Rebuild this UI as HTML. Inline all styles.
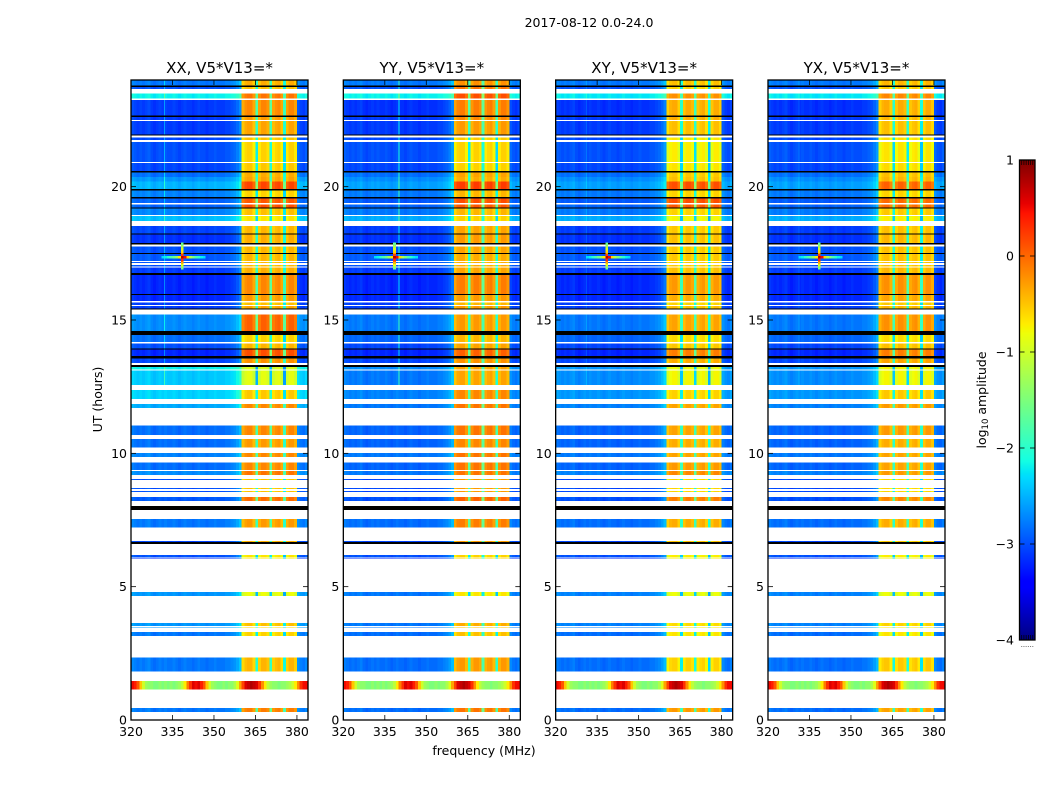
<!DOCTYPE html>
<html lang="en">
<head>
<meta charset="utf-8">
<title>2017-08-12 0.0-24.0</title>
<style>
html,body{margin:0;padding:0;background:#fff;}
svg{display:block;}
text{font-family:"DejaVu Sans","Liberation Sans",sans-serif;fill:#000;}
</style>
</head>
<body>
<svg id="chart" xmlns="http://www.w3.org/2000/svg" width="1050" height="800" viewBox="0 0 1050 800">
  <text x="589" y="27" font-size="12.5" text-anchor="middle">2017-08-12 0.0-24.0</text>
  <text x="484" y="755" font-size="12.5" text-anchor="middle">frequency (MHz)</text>
  <text transform="translate(102 399.5) rotate(-90)" font-size="12.5" text-anchor="middle">UT (hours)</text>
  <text transform="translate(986 400) rotate(-90)" font-size="12.5" text-anchor="middle">log<tspan font-size="8.5" dy="2">10</tspan><tspan dy="-2"> amplitude</tspan></text>
  <g id="panels"></g>
  <g id="colorbar"></g>
</svg>
<script>
// Tick labels
const xTickLabels = [320, 335, 350, 365, 380];
const yTickLabels = [0, 5, 10, 15, 20];
const colorbarTicks = [-4, -3, -2, -1, 0, 1];

// Time rows, top to bottom: each row spans from its UT to the next UT
const rowTopUT = [24.00,23.79,23.74,23.67,23.49,23.30,23.25,22.66,22.62,22.50,
  22.46,21.96,21.91,21.84,21.75,21.68,20.93,20.89,20.58,20.54,
  20.37,20.19,19.91,19.85,19.62,19.56,19.38,19.34,19.22,19.18,
  18.94,18.90,18.72,18.53,18.25,18.21,17.88,17.84,17.75,17.51,
  17.48,17.22,17.18,17.13,17.07,17.00,16.96,16.77,16.68,15.98,
  15.93,15.71,15.66,15.57,15.52,15.44,15.39,15.21,14.59,14.44,
  14.18,14.11,13.94,13.90,13.65,13.56,13.38,13.31,13.23,13.15,
  13.10,12.57,12.38,12.03,11.85,11.70,11.04,10.69,10.53,10.21,
  10.02,9.87,9.65,9.38,9.34,9.19,9.04,9.00,8.70,8.66,
  8.59,8.55,8.37,8.21,8.03,7.88,7.54,7.21,6.71,6.68,
  6.60,6.19,6.09,6.05,6.03,4.80,4.65,3.63,3.53,3.49,
  3.46,3.30,3.15,2.34,1.81,1.46,1.15,0.45,0.30];
// d = data, w = flagged (blank), k = black line, r = interference row
const rowKinds = ['d','k','d','w','d','w','d','k','d','w',
  'd','k','w','d','w','d','w','d','k','d',
  'd','d','k','d','k','d','w','d','k','d',
  'w','d','w','d','k','d','k','w','d','k',
  'd','w','d','w','d','w','d','k','d','k',
  'd','w','d','w','d','k','w','d','k','d',
  'w','d','k','d','k','d','w','k','d','w',
  'd','w','d','w','d','w','d','w','d','w',
  'd','w','d','w','d','w','d','w','d','w',
  'd','w','d','w','k','w','d','w','d','k',
  'w','d','w','d','w','d','w','d','w','d',
  'w','d','w','d','w','r','w','d','w'];

// Per-row log10 amplitude, data rows only: background and 360-380 MHz band
const xxBackground = [-2.8,-3.0,-2.2,-3.1,-3.1,-3.1,-3.05,-3.0,-3.05,-2.85,
  -2.65,-2.5,-2.75,-2.9,-2.9,-2.75,-2.45,-3.05,-3.15,-3.0,
  -2.95,-3.0,-3.0,-3.1,-3.2,-3.2,-3.1,-3.1,-2.7,-2.85,
  -3.0,-3.2,-3.05,-2.2,-2.4,-2.35,-2.55,-2.85,-2.85,-2.75,
  -2.85,-2.7,-3.0,-3.0,-3.0,-2.95,-2.8,-3.05,-3.0,-3.2,
  -2.65,-2.65,-2.65,-2.8,-2.8,-2.8];
const xxBand = [-0.4,-0.5,-0.1,-0.2,-0.3,-0.35,-0.5,-0.6,-0.55,-0.4,
  -0.35,0.15,-0.6,0.05,0.1,-0.5,-0.7,-0.45,-0.4,-0.45,
  -0.45,-0.45,-0.45,-0.4,-0.2,-0.3,-0.5,-0.35,0.0,-0.6,
  -0.45,0.1,-0.25,-0.95,-0.9,-0.55,-0.2,-0.2,-0.3,-0.2,
  -0.2,-0.1,-0.5,-0.5,-0.5,-0.05,-0.3,-0.4,-0.7,-0.7,
  -0.85,-0.5,-0.6,-0.6,-0.45,-0.15];
const yyBackground = [-2.8,-3.0,-2.2,-3.15,-3.1,-3.1,-3.05,-3.0,-3.05,-2.85,
  -2.7,-2.6,-2.8,-2.95,-2.9,-2.8,-2.55,-3.1,-3.15,-3.0,
  -2.95,-3.0,-3.0,-3.1,-3.2,-3.2,-3.1,-3.1,-2.8,-2.9,
  -3.05,-3.2,-3.05,-2.7,-2.8,-2.75,-2.8,-2.9,-2.9,-2.8,
  -2.9,-2.8,-3.05,-3.05,-3.05,-3.0,-2.85,-3.05,-3.0,-3.2,
  -2.8,-2.8,-2.8,-2.85,-2.85,-2.85];
const yyBand = [-0.25,-0.1,0.1,-0.15,-0.2,-0.3,-0.55,-0.6,-0.6,-0.35,
  -0.4,0.2,-0.45,0.1,0.05,-0.45,-0.6,-0.35,-0.3,-0.35,
  -0.4,-0.4,-0.4,-0.35,-0.15,-0.3,-0.45,-0.3,-0.3,-0.45,
  -0.35,0.0,-0.25,-0.35,-0.35,-0.2,-0.1,-0.1,-0.2,-0.1,
  -0.1,-0.1,-0.3,-0.3,-0.3,0.0,-0.15,-0.3,-0.6,-0.6,
  -0.7,-0.4,-0.5,-0.5,-0.3,-0.1];
const xyBackground = [-2.8,-3.0,-2.25,-3.15,-3.1,-3.1,-3.05,-3.0,-3.05,-2.85,
  -2.7,-2.6,-2.8,-2.95,-2.9,-2.8,-2.55,-3.1,-3.15,-3.0,
  -2.95,-3.0,-3.0,-3.1,-3.2,-3.2,-3.1,-3.1,-2.8,-2.9,
  -3.05,-3.2,-3.05,-2.65,-2.7,-2.65,-2.75,-2.9,-2.9,-2.8,
  -2.9,-2.75,-3.05,-3.05,-3.05,-3.0,-2.85,-3.05,-3.0,-3.2,
  -2.75,-2.75,-2.75,-2.85,-2.85,-2.85];
const xyBand = [-0.5,-0.6,-0.25,-0.4,-0.4,-0.5,-0.7,-0.75,-0.7,-0.55,
  -0.5,0.1,-0.6,0.1,0.05,-0.6,-0.8,-0.55,-0.5,-0.55,
  -0.55,-0.55,-0.55,-0.5,-0.3,-0.4,-0.6,-0.5,-0.35,-0.65,
  -0.55,-0.15,-0.4,-0.85,-0.8,-0.6,-0.35,-0.35,-0.4,-0.35,
  -0.3,-0.2,-0.6,-0.6,-0.6,-0.15,-0.4,-0.5,-0.75,-0.75,
  -0.85,-0.65,-0.7,-0.7,-0.6,-0.3];
const yxBackground = [-2.8,-3.0,-2.25,-3.15,-3.1,-3.1,-3.05,-3.0,-3.05,-2.85,
  -2.7,-2.6,-2.8,-2.95,-2.9,-2.8,-2.55,-3.1,-3.15,-3.0,
  -2.95,-3.0,-3.0,-3.1,-3.2,-3.2,-3.1,-3.1,-2.8,-2.9,
  -3.05,-3.2,-3.05,-2.65,-2.7,-2.65,-2.75,-2.9,-2.9,-2.8,
  -2.9,-2.75,-3.05,-3.05,-3.05,-3.0,-2.85,-3.05,-3.0,-3.2,
  -2.75,-2.75,-2.75,-2.85,-2.85,-2.85];
const yxBand = [-0.45,-0.55,-0.2,-0.4,-0.45,-0.5,-0.65,-0.7,-0.65,-0.5,
  -0.45,0.0,-0.6,-0.05,-0.05,-0.55,-0.75,-0.5,-0.45,-0.5,
  -0.5,-0.5,-0.5,-0.45,-0.25,-0.35,-0.55,-0.45,-0.25,-0.65,
  -0.5,-0.15,-0.35,-0.8,-0.8,-0.55,-0.3,-0.3,-0.4,-0.35,
  -0.35,-0.3,-0.6,-0.6,-0.6,-0.2,-0.4,-0.55,-0.75,-0.75,
  -0.85,-0.6,-0.7,-0.7,-0.55,-0.35];

// Channel shapes (1 MHz channels from 320 MHz): offsets read across the panel
const backgroundOffsets = [0.1,0.05,0,0.05,0,0.05,0.1,0,-0.05,0,
  0.05,0,0.05,0,0,0.05,0,-0.05,0,0.05,
  0,0,-0.05,0,0.05,0,0,-0.05,0,0,
  0.05,0,0,0,0.05,0.05,0.1,0.15,0.25,0.4];
const bandOffsets = [-0.15,0,0.05,0.05,-0.15,-1.6,-0.1,0.05,0.05,-0.05,
  -1.5,-0.1,0,0.05,-0.15,-1.7,-0.1,0.05,0.05,-0.1];
const edgeOffsets = [0.15,0.05,0,0.1];

// Narrow vertical interference line per panel, present above UT 12.5
const lineFreqs = [332, 340, 331, 331];
const lineBoosts = [0.5, 0.9, 0.2, 0.2];

// Interference row near UT 1.3, per channel
const rfiLevels = [0.5,0.4,0.1,-0.5,-1,-1.3,-1.4,-1.4,-1.5,-1.5,
  -1.4,-1.5,-1.4,-1.5,-1.4,-1.5,-1.4,-1.3,-1.1,-0.7,
  -0.1,0.3,0.6,0.5,0.6,0.4,0.1,-0.5,-1,-1.3,
  -1.4,-1.5,-1.5,-1.4,-1.5,-1.4,-1.4,-1.2,-0.9,-0.3,
  0.2,0.6,0.7,0.8,0.7,0.6,0.3,-0.2,-0.7,-1.1,
  -1.3,-1.4,-1.4,-1.5,-1.4,-1.4,-1.3,-1.2,-1,-0.7,
  -0.2,0.3,0.5,0.5];

// Bright point source: vertical and horizontal arms
const sourceUT = [17.85,17.75,17.65,17.55,17.45,17.35,17.25,17.15,17.05,16.95,
  17.35,17.35,17.35,17.35,17.35,17.35,17.35,17.35,17.35,17.35,17.35,17.35,17.35,17.35,17.35];
const sourceFreq = [338,338,338,338,338,338,338,338,338,338,
  331,332,333,334,335,336,337,339,340,341,342,343,344,345,346];
const sourceLevel = [-1.6,-1.2,-0.9,-0.6,0.2,0.8,0.3,-0.4,-0.9,-1.5,
  -2.3,-2.2,-2,-1.8,-1.6,-1.3,-0.7,0.5,-0.6,-1.2,-1.5,-1.8,-2,-2.2,-2.3];

const panelTitles = ['XX, V5*V13=*','YY, V5*V13=*','XY, V5*V13=*','YX, V5*V13=*'];
const panelBackgrounds = [xxBackground, yyBackground, xyBackground, yxBackground];
const panelBands = [xxBand, yyBand, xyBand, yxBand];

const SVGNS = 'http://www.w3.org/2000/svg';
const PANEL_W = 177, PANEL_TOP = 80, PANEL_BOTTOM = 720;
const F0 = 320, F1 = 384, CHANNELS = 64;
const panelsRoot = document.getElementById('panels');

function make(tag, attrs, parent) {
  const el = document.createElementNS(SVGNS, tag);
  for (const k in attrs) el.setAttribute(k, attrs[k]);
  parent.appendChild(el);
  return el;
}
function panelLeft(i) { return 131 + 212.33 * i; }
function xScale(i, f) { return panelLeft(i) + (f - F0) / (F1 - F0) * PANEL_W; }
function yScale(ut) { return PANEL_BOTTOM - ut / 24 * (PANEL_BOTTOM - PANEL_TOP); }

function ramp(t, pts) {
  for (let i = 1; i < pts.length; i++) {
    if (t <= pts[i][0]) {
      const a = pts[i - 1], b = pts[i];
      return a[1] + (b[1] - a[1]) * (t - a[0]) / (b[0] - a[0]);
    }
  }
  return pts[pts.length - 1][1];
}
function jet(v) {
  const t = Math.max(0, Math.min(1, (v + 4) / 5));
  const r = ramp(t, [[0,0],[0.35,0],[0.66,1],[0.89,1],[1,0.5]]);
  const g = ramp(t, [[0,0],[0.125,0],[0.375,1],[0.64,1],[0.91,0],[1,0]]);
  const b = ramp(t, [[0,0.5],[0.11,1],[0.34,1],[0.65,0],[1,0]]);
  return 'rgb(' + Math.round(r * 255) + ',' + Math.round(g * 255) + ',' + Math.round(b * 255) + ')';
}
function channelValue(c, bg, band) {
  if (c < 40) return bg + backgroundOffsets[c];
  if (c < 60) return band + bandOffsets[c - 40];
  return bg + edgeOffsets[c - 60];
}

function drawPanel(i) {
  const g = make('g', {}, panelsRoot);
  
  
  const cells = make('g', {'shape-rendering': 'crispEdges'}, g);
  
  
  let d = 0;
  rowTopUT.forEach(function (top, r) {
    const bottom = r + 1 < rowTopUT.length ? rowTopUT[r + 1] : 0;
    const kind = rowKinds[r];
    if (kind === 'w') return;
    const y = yScale(top), h = yScale(bottom) - y;
    if (kind === 'k') {
      const line = make('rect', {x: xScale(i, F0), y: y, width: PANEL_W, height: h, fill: '#000'}, cells);
      
      
      return;
    }
    let bg = 0, band = 0;
    if (kind === 'd') { bg = panelBackgrounds[i][d]; band = panelBands[i][d]; d++; }
    for (let c = 0; c < CHANNELS; c++) {
      const v = kind === 'r' ? rfiLevels[c] : channelValue(c, bg, band);
      const x0 = xScale(i, F0 + c), x1 = xScale(i, F0 + c + 1);
      const cell = make('rect', {x: x0, y: y, width: x1 - x0, height: h, fill: jet(v)}, cells);
      
      
    }
    if (kind === 'd' && top > 12.5) {
      const stripe = make('rect', {x: xScale(i, lineFreqs[i]), y: y, width: 1, height: h, fill: jet(bg + lineBoosts[i])}, cells);
      
      
    }
  });
  sourceUT.forEach(function (ut, s) {
    const x0 = xScale(i, sourceFreq[s]), x1 = xScale(i, sourceFreq[s] + 1);
    const mark = make('rect', {x: x0, y: yScale(ut + 0.05), width: x1 - x0, height: yScale(ut - 0.05) - yScale(ut + 0.05), fill: jet(sourceLevel[s])}, cells);
    
    
  });

  const left = panelLeft(i), right = left + PANEL_W;
  const frame = make('rect', {x: left, y: PANEL_TOP, width: PANEL_W, height: PANEL_BOTTOM - PANEL_TOP, fill: 'none', stroke: '#000', 'stroke-width': 1.3}, g);
  
  

  const title = make('text', {x: left + PANEL_W / 2, y: 73, 'font-size': 15, 'text-anchor': 'middle'}, g);
  
  
  title.textContent = panelTitles[i];

  xTickLabels.forEach(function (f) {
    const x = xScale(i, f);
    const t1 = make('line', {x1: x, x2: x, y1: PANEL_BOTTOM, y2: PANEL_BOTTOM - 5, stroke: '#000', 'stroke-width': 0.8}, g);
    
    
    const t2 = make('line', {x1: x, x2: x, y1: PANEL_TOP, y2: PANEL_TOP + 5, stroke: '#000', 'stroke-width': 0.8}, g);
    
    
    const lab = make('text', {x: x, y: 736, 'font-size': 12.5, 'text-anchor': 'middle'}, g);
    
    
    lab.textContent = f;
  });
  yTickLabels.forEach(function (u) {
    const y = yScale(u);
    const t1 = make('line', {x1: left, x2: left + 5, y1: y, y2: y, stroke: '#000', 'stroke-width': 0.8}, g);
    
    
    const t2 = make('line', {x1: right - 5, x2: right, y1: y, y2: y, stroke: '#000', 'stroke-width': 0.8}, g);
    
    
    const lab = make('text', {x: left - 4, y: y + 4.5, 'font-size': 12.5, 'text-anchor': 'end'}, g);
    
    
    lab.textContent = u;
  });
}
panelTitles.forEach(function (_, i) { drawPanel(i); });

function drawColorbar() {
  const cb = document.getElementById('colorbar');
  const X = 1019.5, W = 15.5, T = 160, B = 640, STEPS = 240;
  const cbY = function (v) { return B - (v + 4) / 5 * (B - T); };
  const strip = make('g', {'shape-rendering': 'crispEdges'}, cb);
  for (let s = 0; s < STEPS; s++) {
    const v0 = -4 + 5 * s / STEPS, v1 = -4 + 5 * (s + 1) / STEPS;
    const seg = make('rect', {x: X, y: cbY(v1), width: W, height: cbY(v0) - cbY(v1) + 0.5, fill: jet((v0 + v1) / 2)}, strip);
    
    
  }
  const frame = make('rect', {x: X, y: T, width: W, height: B - T, fill: 'none', stroke: '#000', 'stroke-width': 1.3}, cb);
  
  
  colorbarTicks.forEach(function (v) {
    const y = cbY(v);
    if (v > -4 && v < 1) {
      const a = make('line', {x1: X, x2: X + 5, y1: y, y2: y, stroke: '#000', 'stroke-width': 0.8}, cb);
      
      
      const b = make('line', {x1: X + W - 5, x2: X + W, y1: y, y2: y, stroke: '#000', 'stroke-width': 0.8}, cb);
      
      
    }
    const lab = make('text', {x: 1014, y: y + 4.5, 'font-size': 12.5, 'text-anchor': 'end'}, cb);
    
    
    lab.textContent = String(v).replace('-', '\u2212');
  });
  for (let k = 1; k <= 6; k++) {
    const x = X + k * W / 7;
    const top = make('line', {x1: x, x2: x, y1: T, y2: T + 5, stroke: '#000', 'stroke-width': 0.7}, cb);
    
    
    const bot = make('line', {x1: x, x2: x, y1: B - 5, y2: B, stroke: '#000', 'stroke-width': 0.7}, cb);
    
    
    const dot = make('rect', {x: x - 0.5, y: 646, width: 1, height: 1, fill: '#777'}, cb);
    
    
  }
}
drawColorbar();
</script>
</body>
</html>
